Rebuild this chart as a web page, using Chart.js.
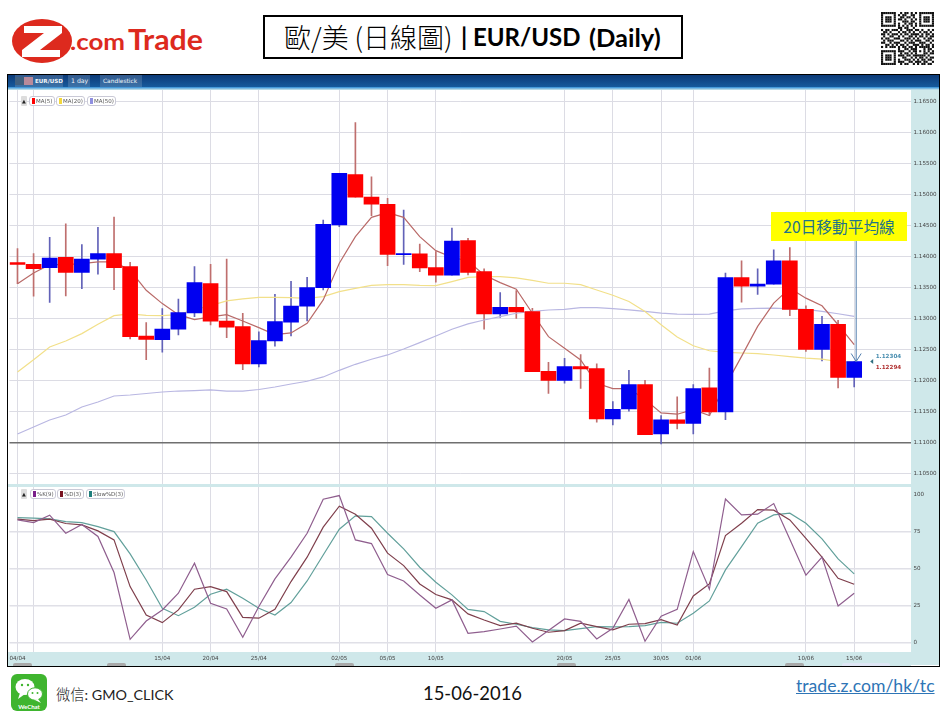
<!DOCTYPE html>
<html>
<head>
<meta charset="utf-8">
<title>EUR/USD Daily</title>
<script src="https://cdn.jsdelivr.net/npm/chart.js@4"></script>
<style>
  html, body { margin: 0; padding: 0; background: #fff; overflow: hidden; }
  body { width: 951px; height: 714px; position: relative; font-family: "Lato", sans-serif; }
  .abs { position: absolute; }
  #title-box { left: 263px; top: 15px; width: 416px; height: 40px; border: 2px solid #000; color: #000; }
  #title-box span { position: absolute; top: 0; line-height: 40px; white-space: nowrap; }
  #title-box .cjk { font-family: "Noto Sans CJK TC"; font-weight: 300; font-size: 27px; }
  #title-box .lat { font-family: "Lato"; font-weight: 700; font-size: 24px; }
  #frame { left: 7px; top: 74px; width: 931px; height: 591px; border: 1.5px solid #000; background: #fff; }
  #bar { left: 8px; top: 75px; width: 931px; height: 12px; background: linear-gradient(#0c3a78, #175a9c); }
  #bar-under { left: 8px; top: 87px; width: 931px; height: 3px; background: linear-gradient(#2b8ad6, #cfe8ea); }
  #bar span { position: absolute; top: 1px; font: 6.2px/10px "DejaVu Sans"; color: #f0f4f8; white-space: nowrap; }
  .tab { position: absolute; top: 0; height: 12px; background: rgba(150,175,200,.28); }
  #side { left: 911px; top: 90px; width: 27.5px; height: 575px; background: #cfe8ea; }
  #band { left: 8px; top: 484px; width: 903px; height: 3px; background: #cfe8ea; }
  #strip { left: 8px; top: 652px; width: 903px; height: 13.5px; background: #cfe8ea; }
  canvas { position: absolute; }
  .chip { position: absolute; height: 8px; border: 1px solid #c9c9d6; border-radius: 3px; background: #fff;
    font: 5.5px/8px "DejaVu Sans"; color: #555; white-space: nowrap; padding-left: 6px; }
  .chip i { position: absolute; left: 2px; top: 1px; width: 2.5px; height: 6px; }
  .up { position: absolute; width: 6px; height: 10px; background: #ddd; border-radius: 1px;
    font: 5px/10px "DejaVu Sans"; text-align: center; color: #222; }
  .pill { position: absolute; top: 663px; height: 3px; background: #a9a9a9; border-radius: 2px 2px 0 0; }
  #note { left: 771px; top: 212px; width: 136px; height: 29px; background: #ffff00; text-align: center;
    font: 400 15.7px/29px "Noto Sans CJK TC"; color: #1f7488; white-space: nowrap; }
  #foot-we { left: 56px; top: 685px; font: 14.3px/18px "Lato"; color: #222; white-space: nowrap; }
  #foot-we .cjk { font-family: "Noto Sans CJK TC"; font-weight: 300; }
  #foot-date { left: 423px; top: 681px; font: 18.4px/24px "Lato"; color: #111; white-space: nowrap; }
  #foot-link { left: 796px; top: 675px; font: 17.6px/22px "Lato"; color: #2e75b6; text-decoration: underline; white-space: nowrap; }
</style>
</head>
<body>
<svg class="abs" style="left:10px;top:16px" width="196" height="50" viewBox="0 0 196 50">
  <ellipse cx="32" cy="25" rx="30" ry="22" fill="#dd2a1e"/>
  <path d="M14 10 H52 V17 L30 34 H50 V41 H12 V34 L34 17 H14 Z" fill="#fff"/>
  <text x="60" y="34" font-family="Lato" font-weight="700" font-size="22" fill="#dd2a1e" textLength="55" lengthAdjust="spacingAndGlyphs">.com</text>
  <text x="118" y="34" font-family="Lato" font-weight="700" font-size="29" fill="#dd2a1e" textLength="75" lengthAdjust="spacingAndGlyphs">Trade</text>
</svg>
<div id="title-box" class="abs">
  <span class="cjk" style="left:19px">歐/美 (日線圖)</span>
  <span class="lat" style="left:196px">|</span>
  <span class="lat" style="left:208px">EUR/USD</span>
  <span class="lat" style="left:324px;font-size:25.5px">(Daily)</span>
</div>
<canvas id="qr" width="53" height="53" style="left:881px;top:12px"></canvas>

<div id="frame" class="abs"></div>
<div id="side" class="abs"></div>
<div id="band" class="abs"></div>
<div id="strip" class="abs"></div>
<div id="bar" class="abs">
  <div class="tab" style="left:7px;width:48px"></div>
  <div class="tab" style="left:60px;width:22px"></div>
  <div class="tab" style="left:92px;width:42px"></div>
  <div class="tab" style="left:7px;width:9px;top:2px;height:8px;background:#41607f"></div>
  <div class="tab" style="left:16px;width:9px;top:2px;height:8px;background:#b98a9a"></div>
  <span style="left:27px;font-weight:700;font-size:5.6px">EUR/USD</span>
  <span style="left:63px">1 day</span>
  <span style="left:95px;font-size:5.9px">Candlestick</span>
</div>
<div id="bar-under" class="abs"></div>

<canvas id="price-chart" width="931" height="394" style="left:8px;top:90px"></canvas>
<canvas id="stoch-chart" width="931" height="179" style="left:8px;top:487px"></canvas>

<div class="up" style="left:21px;top:96px">▲</div>
<div class="chip" style="left:29px;top:96px;width:18px"><i style="background:#f00"></i>MA(5)</div>
<div class="chip" style="left:56px;top:96px;width:21px"><i style="background:#f2d73c"></i>MA(20)</div>
<div class="chip" style="left:87px;top:96px;width:21px"><i style="background:#8f8fe0"></i>MA(50)</div>
<div class="up" style="left:21px;top:489px">▲</div>
<div class="chip" style="left:30px;top:489px;width:18px"><i style="background:#7a1f8a"></i>%K(9)</div>
<div class="chip" style="left:57px;top:489px;width:19px"><i style="background:#7a1422"></i>%D(3)</div>
<div class="chip" style="left:86px;top:489px;width:31px"><i style="background:#1f7f7c"></i>Slow%D(3)</div>
<div class="pill" style="left:13px;width:19px"></div>
<div class="pill" style="left:107px;width:19px"></div>
<div class="pill" style="left:335px;width:19px"></div>
<div class="pill" style="left:557px;width:19px"></div>
<div class="pill" style="left:785px;width:19px"></div>
<div class="pill" style="left:842px;width:48px;background:#dfe6f5"></div>

<div id="note" class="abs">20日移動平均線</div>

<svg class="abs" style="left:11px;top:674px" width="36" height="37" viewBox="0 0 36 37">
  <rect width="36" height="37" rx="6" fill="#3fb52f"/>
  <ellipse cx="14" cy="13" rx="9.5" ry="8" fill="#fff"/>
  <path d="M9 19 L7 25 L14 20 Z" fill="#fff"/>
  <ellipse cx="24" cy="20" rx="7.5" ry="6.2" fill="#fff" stroke="#3fb52f"/>
  <path d="M27 25 L30 29 L23 25.5 Z" fill="#fff"/>
  <circle cx="11" cy="11" r="1.2" fill="#3fb52f"/><circle cx="17" cy="11" r="1.2" fill="#3fb52f"/>
  <circle cx="21.5" cy="19" r="1" fill="#3fb52f"/><circle cx="26.5" cy="19" r="1" fill="#3fb52f"/>
  <text x="18" y="35" text-anchor="middle" font-family="Lato" font-weight="700" font-size="6" fill="#fff">WeChat</text>
</svg>
<div id="foot-we" class="abs"><span class="cjk">微信</span>: GMO_CLICK</div>
<div id="foot-date" class="abs">15-06-2016</div>
<div id="foot-link" class="abs">trade.z.com/hk/tc</div>

<script>
// trading days 04/04 - 15/06/2016, plus empty slots the platform leaves on the right
const DATES = [
  '04/04','05/04','06/04','07/04','08/04','11/04','12/04','13/04','14/04','15/04',
  '18/04','19/04','20/04','21/04','22/04','25/04','26/04','27/04','28/04','29/04',
  '02/05','03/05','04/05','05/05','06/05','09/05','10/05','11/05','12/05','13/05',
  '16/05','17/05','18/05','19/05','20/05','23/05','24/05','25/05','26/05','27/05',
  '30/05','31/05','01/06','02/06','03/06','06/06','07/06','08/06','09/06','10/06',
  '13/06','14/06','15/06','','',''
];
const GRID_DATES = ['04/04','05/04','15/04','20/04','25/04','02/05','05/05','10/05','20/05','25/05','30/05','01/06','10/06','15/06'];
const LABEL_DATES = GRID_DATES.filter(d => d !== '05/04');

const OPEN = [
  1.13898,1.13871,1.13817,1.13984,1.13742,1.13952,1.14043,1.13833,1.12715,1.12656,
  1.12823,1.13086,1.13559,1.12957,1.12866,1.12264,1.12634,1.12936,1.13194,1.13495,
  1.14505,1.15317,1.14957,1.14839,1.14027,1.14038,1.13817,1.13694,1.14253,1.13753,
  1.13070,1.13177,1.13108,1.12145,1.12000,1.12221,1.12188,1.11376,1.11539,1.11930,
  1.11136,1.11362,1.11303,1.11877,1.11490,1.13658,1.13518,1.13550,1.13926,1.13143,
  1.12499,1.12901,1.12048
];
const CLOSE = [
  1.13871,1.13801,1.13973,1.13742,1.13957,1.14043,1.13817,1.12704,1.12661,1.12828,
  1.13091,1.13575,1.12952,1.12855,1.12264,1.12640,1.12946,1.13199,1.13495,1.14516,
  1.15339,1.14952,1.14839,1.14032,1.14043,1.13812,1.13694,1.14247,1.13742,1.13070,
  1.13177,1.13102,1.12140,1.12000,1.12221,1.12183,1.11376,1.11532,1.11930,1.11125,
  1.11362,1.11303,1.11866,1.11490,1.13658,1.13518,1.13550,1.13926,1.13143,1.12499,
  1.12901,1.12048,1.12300
];
const HIGH = [
  1.14124,1.14043,1.14306,1.14522,1.14188,1.14468,1.14634,1.13903,1.12930,1.13156,
  1.13312,1.13833,1.13871,1.13957,1.13081,1.12780,1.13387,1.13597,1.13661,1.14586,
  1.15339,1.16156,1.15280,1.14935,1.14747,1.14199,1.14075,1.14457,1.14290,1.13796,
  1.13414,1.13446,1.13161,1.12290,1.12355,1.12414,1.12264,1.11656,1.12161,1.12000,
  1.11431,1.11732,1.11930,1.12199,1.13728,1.13926,1.13797,1.14103,1.14141,1.13202,
  1.13030,1.12966,1.12300
];
const LOW = [
  1.13559,1.13355,1.13258,1.13360,1.13479,1.13710,1.13462,1.12667,1.12333,1.12452,
  1.12731,1.13027,1.12893,1.12688,1.12172,1.12215,1.12549,1.12715,1.12957,1.13457,
  1.14478,1.14952,1.14656,1.13849,1.13871,1.13753,1.13581,1.13694,1.13699,1.12823,
  1.13016,1.13000,1.12140,1.11790,1.11952,1.11871,1.11323,1.11280,1.11501,1.11125,
  1.10975,1.11217,1.11136,1.11431,1.11367,1.13261,1.13384,1.13550,1.13041,1.12467,
  1.12311,1.11877,1.11893
];
const MA5 = [
  1.13559,1.13731,1.13866,1.13866,1.13882,1.13909,1.13909,1.13774,1.13452,1.13237,
  1.13059,1.12979,1.13022,1.13059,1.12957,1.12850,1.12737,1.12764,1.12919,1.13296,
  1.13887,1.14317,1.14629,1.14704,1.14629,1.14317,1.14091,1.13984,1.13925,1.13699,
  1.13575,1.13468,1.13081,1.12704,1.12516,1.12328,1.11952,1.11866,1.11866,1.11689,
  1.11474,1.11453,1.11528,1.11431,1.11914,1.12386,1.12869,1.13245,1.13486,1.13325,
  1.13202,1.12896,1.12574
];
const MA20 = [
  1.12135,1.12333,1.12538,1.12634,1.12753,1.12903,1.13043,1.13070,1.13048,1.13043,
  1.13059,1.13140,1.13204,1.13280,1.13312,1.13339,1.13339,1.13333,1.13320,1.13350,
  1.13430,1.13484,1.13532,1.13543,1.13543,1.13532,1.13527,1.13591,1.13661,1.13672,
  1.13672,1.13651,1.13613,1.13565,1.13565,1.13543,1.13457,1.13371,1.13271,1.13111,
  1.12896,1.12697,1.12558,1.12477,1.12451,1.12440,1.12429,1.12408,1.12381,1.12359,
  1.12343,1.12300,1.12290
];
const MA50 = [
  1.11134,1.11247,1.11360,1.11440,1.11569,1.11650,1.11747,1.11763,1.11787,1.11811,
  1.11827,1.11835,1.11844,1.11827,1.11827,1.11852,1.11892,1.11940,1.11985,1.12054,
  1.12161,1.12258,1.12339,1.12409,1.12505,1.12608,1.12715,1.12823,1.12909,1.12973,
  1.13027,1.13081,1.13113,1.13134,1.13145,1.13172,1.13172,1.13156,1.13137,1.13111,
  1.13084,1.13068,1.13062,1.13068,1.13121,1.13153,1.13159,1.13164,1.13153,1.13143,
  1.13111,1.13073,1.13030
];
const STOCH_K = [
  82.8,81,86,73.8,79.7,71.6,47.2,2,14.4,21.9,
  33.2,53.5,26.4,22.6,3.4,24.2,42.9,57.6,73.8,96.8,
  99.3,69.3,66.8,45.8,41.5,32,23,28.7,6.1,7.2,
  9,11,0.2,8,15.8,14.2,2.3,9.5,29,0.7,
  17.6,22.3,61.4,35.9,97,86.2,86.7,93.9,69.8,45.4,
  57.6,24.6,33.2
];
const STOCH_D = [
  83.3,82.4,83.3,80.4,79.5,75.4,69.3,37.7,18.5,13.3,
  21.9,35.9,37.7,34.3,16.9,16.3,22.3,41.1,57.6,77.9,
  92.1,86.7,77.2,60.3,51.9,39.5,32.3,28.7,19.2,15.1,
  11.3,12.9,9.5,6.8,7.9,12.9,10.6,8.4,12.2,12.6,
  15.3,11.7,31.4,39.5,72.2,80.6,89.8,89.4,82.8,70.4,
  57.6,43.3,39.3
];
const STOCH_SLOW = [
  84.4,84,83.5,81.7,81,78.3,74.9,59.8,42.2,23,
  18,23.7,32.5,35.9,29.8,23,18.5,26.9,41.5,59.1,
  76.5,85.6,85.1,73.8,63.2,50.8,40.6,32.1,22.3,20.8,
  14.2,12.2,9.9,8.4,7.9,9.3,10.6,10.4,10.6,11.3,
  13.5,12.9,19.6,28,49,64.8,80.6,86.2,87.4,80.6,
  70,56.4,46.3
];
const BID = 1.12304;
const ASK = 1.12294;
const ARROW_FROM = 1.14247;
const ARROW_TO = 1.12303;

const GRID_GREY = '#dcdce4';
Chart.defaults.font.family = '"DejaVu Sans"';
Chart.defaults.animation = false;

const lineDs = (label, data, color) => ({
  type: 'line', label, data, borderColor: color, backgroundColor: 'transparent',
  borderWidth: 1.2, pointRadius: 0, tension: 0, order: 2,
});

const xGridColor = ctx => GRID_DATES.includes(DATES[ctx.index]) ? GRID_GREY : 'transparent';

// Chart.js pads the plot by half a tick label; the platform's plot runs edge to edge
const noScalePadding = scale => {
  scale.paddingTop = 0;
  scale.paddingBottom = 0;
  scale.paddingLeft = 0;
  scale.paddingRight = 0;
};

// price labels and the arrow from the yellow note down to the last candle
const pricePlugin = {
  id: 'priceMarks',
  afterDatasetsDraw(chart) {
    const { ctx, scales: { x, y } } = chart;
    const last = x.getPixelForValue(DATES.indexOf('15/06'));
    const ax = last + 2;
    const top = y.getPixelForValue(ARROW_FROM), tip = y.getPixelForValue(ARROW_TO);
    ctx.save();
    ctx.strokeStyle = '#4f7cac';
    ctx.lineWidth = 1;
    ctx.beginPath();
    ctx.moveTo(ax, top); ctx.lineTo(ax, tip);
    ctx.moveTo(ax - 5, tip - 8); ctx.lineTo(ax, tip); ctx.lineTo(ax + 5, tip - 8);
    ctx.stroke();
    ctx.font = 'bold 5.6px "DejaVu Sans"';
    ctx.textBaseline = 'middle';
    ctx.fillStyle = '#4a8fb0';
    ctx.fillText(BID.toFixed(5), last + 21.5, y.getPixelForValue(BID) - 5);
    ctx.fillStyle = '#b03030';
    ctx.fillText(ASK.toFixed(5), last + 21.5, y.getPixelForValue(ASK) + 5);
    ctx.fillStyle = '#2f6f80';
    ctx.beginPath();
    const my = y.getPixelForValue(BID);
    ctx.moveTo(last + 19, my - 2.5); ctx.lineTo(last + 19, my + 2.5); ctx.lineTo(last + 16, my);
    ctx.fill();
    ctx.restore();
  },
};

new Chart(document.getElementById('price-chart'), {
  data: {
    labels: DATES,
    datasets: [
      {
        type: 'bar', label: 'body', data: OPEN.map((o, i) => [o, CLOSE[i]]),
        backgroundColor: OPEN.map((o, i) => CLOSE[i] >= o ? '#0000f0' : '#fe0000'),
        barThickness: 15, grouped: false, order: 1,
      },
      lineDs('MA(5)', MA5, '#b96a68'),
      lineDs('MA(20)', MA20, '#f2e08a'),
      lineDs('MA(50)', MA50, '#b9b7e2'),
      {
        type: 'bar', label: 'wick', data: LOW.map((l, i) => [l, HIGH[i]]),
        backgroundColor: OPEN.map((o, i) => CLOSE[i] >= o ? '#6262b8' : '#bf6f6e'),
        barThickness: 1, grouped: false, order: 3,
      },
    ],
  },
  options: {
    responsive: false,
    layout: { padding: { left: 1.45 } },
    plugins: { legend: { display: false }, tooltip: { enabled: false } },
    scales: {
      x: {
        type: 'category', offset: true,
        grid: { offset: false, color: xGridColor, drawTicks: false },
        border: { display: false },
        ticks: { display: false, autoSkip: false },
        afterFit(scale) { scale.height = 0; noScalePadding(scale); },
      },
      y: {
        position: 'right',
        min: 1.103274, max: 1.166823,
        grid: {
          drawTicks: false,
          color: c => Math.abs(c.tick.value - 1.11) < 1e-6 ? '#6f6f6f' : GRID_GREY,
          lineWidth: c => Math.abs(c.tick.value - 1.11) < 1e-6 ? 1.5 : 1,
        },
        border: { display: false },
        ticks: {
          stepSize: 0.005, includeBounds: false, padding: 3,
          color: '#444', font: { size: 5.6 },
          callback: v => v.toFixed(5),
        },
        afterFit(scale) { scale.width = 28.5; noScalePadding(scale); },
      },
    },
  },
  plugins: [pricePlugin],
});

new Chart(document.getElementById('stoch-chart'), {
  type: 'line',
  data: {
    labels: DATES,
    datasets: [
      lineDs('%K(9)', STOCH_K, '#8f5e8e'),
      lineDs('%D(3)', STOCH_D, '#7f3f4c'),
      lineDs('Slow%D(3)', STOCH_SLOW, '#62a09b'),
    ],
  },
  options: {
    responsive: false,
    layout: { padding: { left: 1.45 } },
    plugins: { legend: { display: false }, tooltip: { enabled: false } },
    scales: {
      x: {
        type: 'category', offset: true,
        grid: { offset: false, color: xGridColor, drawTicks: false },
        border: { display: false },
        ticks: {
          autoSkip: false, maxRotation: 0, minRotation: 0, padding: 3,
          color: '#444', font: { size: 5.6 },
          callback(v) {
            const d = this.getLabelForValue(v);
            return LABEL_DATES.includes(d) ? d : '';
          },
        },
        afterFit(scale) { scale.height = 14; noScalePadding(scale); },
      },
      y: {
        position: 'right',
        min: -6.57, max: 105.1,
        grid: {
          drawTicks: false,
          lineWidth: 1.5,
          color: c => c.tick.value === 100 ? 'transparent' : '#e0e0e7',
        },
        border: { display: false },
        ticks: {
          stepSize: 25, includeBounds: false, padding: 3,
          color: '#444', font: { size: 5.6 },
        },
        afterFit(scale) { scale.width = 28.5; noScalePadding(scale); },
      },
    },
  },
});

// QR block in the header, cell rows only
const QR_ROWS = [
  '1111111001011010101111111','1000001010110011001000001','1011101001101101001011101',
  '1011101011010010101011101','1011101000111011001011101','1000001010010110101000001',
  '1111111010101010101111111','0000000011011001000000000','1011011101001110110100101',
  '0110100010110101001011010','1101011101011011110101101','0100110010100110101101011',
  '1011001110011101010010110','0101110001101010111001101','1100101110010111001110010',
  '0011010101101001110101101','1010111010110110101111101','0000000010011011100010110',
  '1111111011100101101010101','1000001001011010100011011','1011101011101101111110100',
  '1011101000110010101101011','1011101010011101010110110','1000001011100110111011001',
  '1111111001011001010110110',
];
const qrCtx = document.getElementById('qr').getContext('2d');
const qrCell = 53 / QR_ROWS.length;
qrCtx.fillStyle = '#111';
QR_ROWS.forEach((row, r) => [...row].forEach((c, k) => {
  if (c === '1') qrCtx.fillRect(k * qrCell, r * qrCell, qrCell, qrCell);
}));
</script>
</body>
</html>
